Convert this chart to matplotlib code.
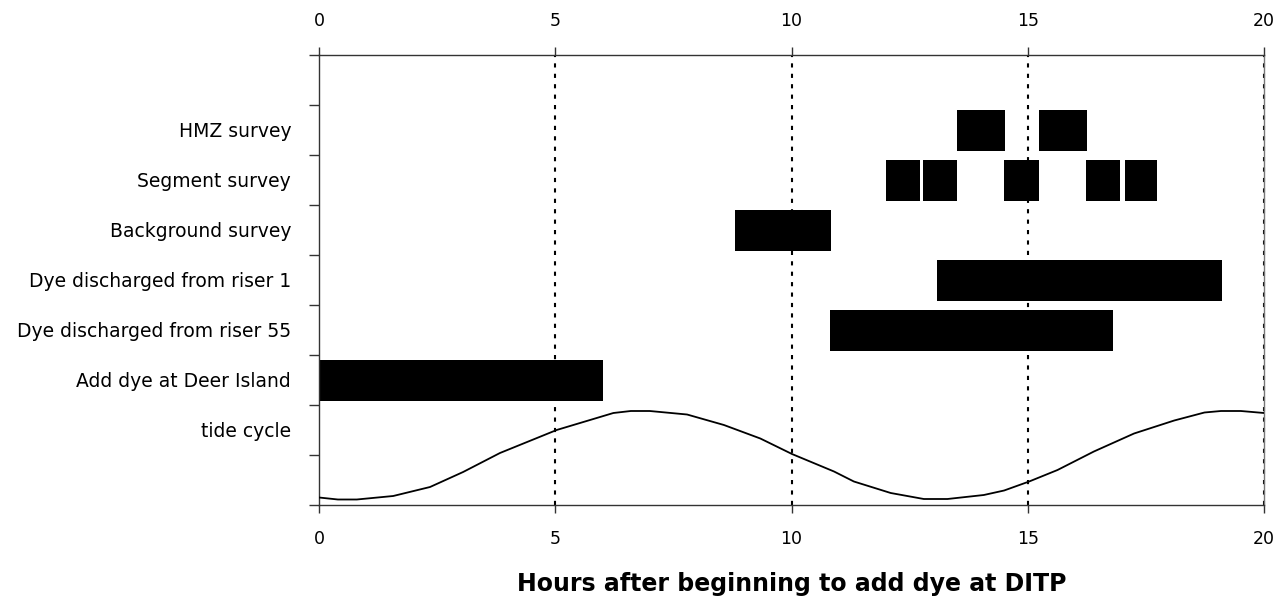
import matplotlib
matplotlib.use("Agg")
import matplotlib.pyplot as plt
import numpy as np

# ---- data ----
categories = ["tide cycle", "Add dye at Deer Island", "Dye discharged from riser 55",
              "Dye discharged from riser 1", "Background survey", "Segment survey", "HMZ survey"]

# (start, end) hours for each activity
deer_island = [(0.0, 6.0)]
riser55 = [(10.81, 16.80)]
riser1 = [(13.07, 19.11)]
background = [(8.81, 10.83)]
segment = [(11.99, 12.71), (12.78, 13.50), (14.49, 15.23), (16.23, 16.95), (17.06, 17.73)]
hmz = [(13.50, 14.51), (15.23, 16.25)]

tide_hours = [0.0, 0.4, 0.8, 1.57, 2.35, 3.05, 3.83, 5.03, 6.23, 6.6, 7.0, 7.79, 8.57, 9.34,
              10.01, 10.9, 11.32, 12.1, 12.8, 13.3, 14.07, 14.5, 15.03, 15.63, 16.4, 17.25,
              18.1, 18.74, 19.09, 19.51, 20.0]
tide_level = [0.14, 0.10, 0.10, 0.17, 0.35, 0.65, 1.03, 1.49, 1.83, 1.87, 1.87, 1.80, 1.59, 1.32,
              1.01, 0.66, 0.46, 0.23, 0.11, 0.11, 0.19, 0.28, 0.46, 0.69, 1.06, 1.42,
              1.68, 1.84, 1.87, 1.87, 1.83]

x_ticks = [0, 5, 10, 15, 20]
xlabel = "Hours after beginning to add dye at DITP"

# ---- figure ----
fig = plt.figure(figsize=(12.86, 5.99), dpi=100)
ax = fig.add_axes([319/1286, 1 - 504.5/599, (1264-319)/1286, (504.5-54.5)/599])

font = "DejaVu Sans"
spine_col = "#333333"

# grid lines (dotted verticals)
for xv in x_ticks[1:]:
    ax.axvline(xv, color="black", lw=1.5, linestyle=(0, (2, 3)), zorder=1, clip_on=False)

# bars
rows = [(deer_island, 2), (riser55, 3), (riser1, 4), (background, 5), (segment, 6), (hmz, 7)]
for spans, row in rows:
    ax.broken_barh([(s, e - s) for s, e in spans], (row + 0.07, 0.83),
                   facecolors="black", edgecolor="none", zorder=2)

# tide curve
ax.plot(tide_hours, tide_level, color="black", lw=1.3, zorder=3)

ax.set_xlim(0, 20)
ax.set_ylim(0, 9)

# spines
for s in ["left", "top", "bottom"]:
    ax.spines[s].set_color(spine_col)
    ax.spines[s].set_linewidth(1.0)
ax.spines["right"].set_color("#777777")
ax.spines["right"].set_linewidth(1.0)

# x ticks on both top and bottom
ax.set_xticks(x_ticks)
ax.set_xticklabels([str(v) for v in x_ticks])
ax.tick_params(axis="x", which="major", top=True, labeltop=True, bottom=True, labelbottom=True,
               direction="out", length=6, width=1, color=spine_col, labelsize=12.5, pad=12)
for lbl in ax.get_xticklabels():
    lbl.set_fontfamily(font)

# y ticks: minor = tick marks, major = labels
ax.set_yticks([i + 1.5 for i in range(len(categories))])
ax.set_yticklabels(categories)
ax.set_yticks(np.arange(0, 10), minor=True)
ax.tick_params(axis="y", which="major", length=0, pad=20, labelsize=13.5)
ax.tick_params(axis="y", which="minor", length=7, width=1, color=spine_col, direction="out")
for lbl in ax.get_yticklabels():
    lbl.set_fontfamily(font)

ax.set_xlabel(xlabel, fontsize=17, fontweight="bold", fontfamily=font, labelpad=18)

fig.savefig("out.png", dpi=100)
